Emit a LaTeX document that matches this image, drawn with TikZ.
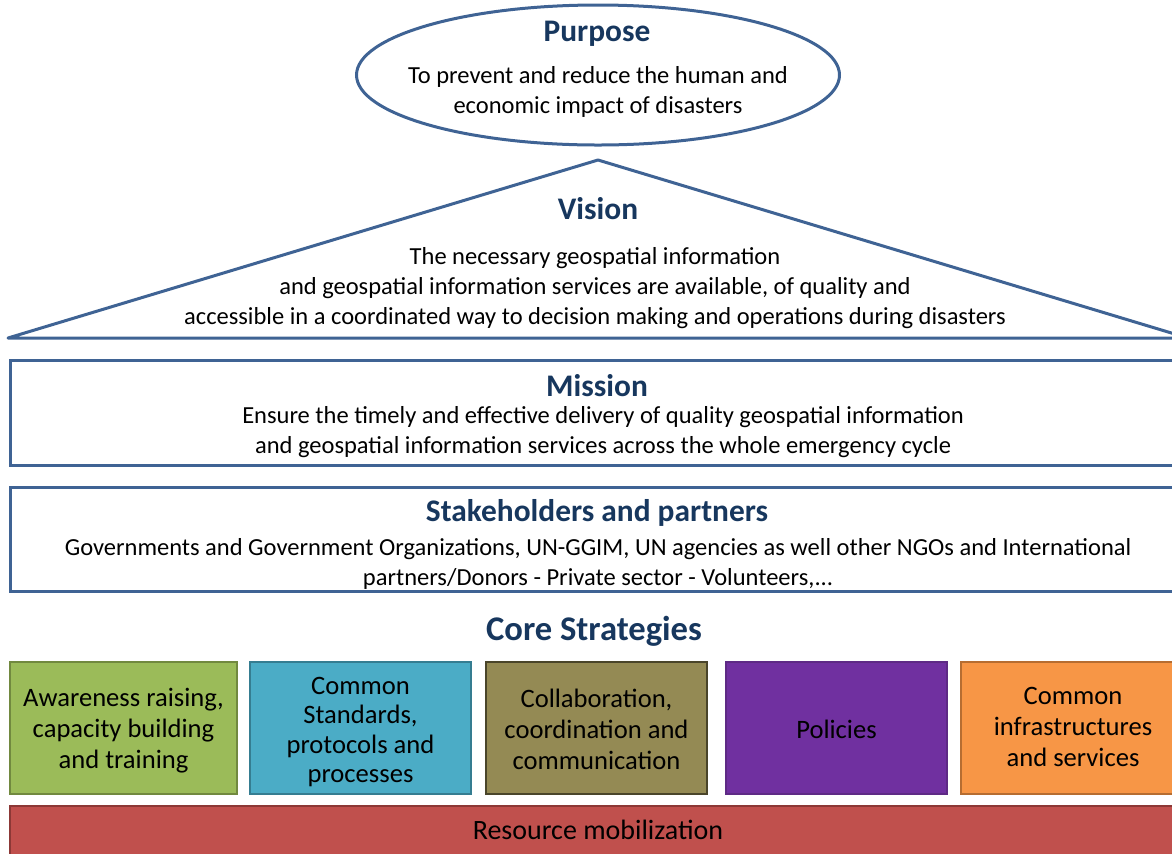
\documentclass[tikz,border=0pt]{standalone}
\usepackage{fontspec}
\setmainfont{Carlito}
\usetikzlibrary{shapes.geometric}

\definecolor{outline}{RGB}{63,99,148}
\definecolor{titlecol}{RGB}{23,55,94}
\definecolor{greenfill}{RGB}{155,187,89}
\definecolor{greenline}{RGB}{113,137,63}
\definecolor{bluefill}{RGB}{75,172,198}
\definecolor{blueline}{RGB}{53,125,145}
\definecolor{olivefill}{RGB}{148,138,84}
\definecolor{oliveline}{RGB}{74,69,42}
\definecolor{purplefill}{RGB}{112,48,160}
\definecolor{purpleline}{RGB}{94,42,133}
\definecolor{orangefill}{RGB}{247,150,70}
\definecolor{orangeline}{RGB}{182,109,49}
\definecolor{redfill}{RGB}{192,80,77}
\definecolor{redline}{RGB}{140,56,54}

\tikzset{
  heading/.style={font=\bfseries\fontsize{15.7}{18}\selectfont, text=titlecol},
  bodytext/.style={font=\fontsize{12.25}{15}\selectfont, align=center},
  panel/.style={draw=outline, line width=1.5pt},
  strategy/.style={draw, line width=1pt, minimum height=66pt},
  strategytext/.style={align=center, font=\fontsize{13.3}{15.5}\selectfont, text=black}
}

\begin{document}
\begin{tikzpicture}[x=0.5pt, y=-0.5pt]
\clip (0,0) rectangle (1172,853);

%目的：椭圆
\node[panel, ellipse, minimum width=241.5pt, minimum height=70pt] (purpose) at (598,75) {};
\node[heading] (purposetitle) at (597,34) {Purpose};
\node[bodytext] (purposetext) at (598,92) {To prevent and reduce the human and\\economic impact of disasters};

%愿景：三角形
\draw[panel, line join=round] (8,338) -- (598,160) -- (1188,338) -- cycle;
\node[heading] (visiontitle) at (598,209) {Vision};
\node[bodytext] (visiontext) at (595,288) {The necessary geospatial information\\and geospatial information services are available, of quality and\\accessible in a coordinated way to decision making and operations during disasters};

%使命
\draw[panel] (10,360) rectangle (1185,465);
\node[heading] (missiontitle) at (597,386) {Mission};
\node[bodytext] (missiontext) at (603,432.5) {Ensure the timely and effective delivery of quality geospatial information\\and geospatial information services across the whole emergency cycle};

%利益相关方
\draw[panel] (10,487) rectangle (1185,591);
\node[heading] (stakeholdertitle) at (597,513) {Stakeholders and partners};
\node[bodytext] (stakeholdertext) at (598,563.5) {Governments and Government Organizations, UN-GGIM, UN agencies as well other NGOs and International\\partners/Donors - Private sector - Volunteers,...};

%核心战略
\node[heading, font=\bfseries\fontsize{17.3}{20}\selectfont] (coretitle) at (594,631) {Core Strategies};
\node[strategy, fill=greenfill, draw=greenline, minimum width=113.5pt] (awareness) at (123.5,728) {};
\node[strategy, fill=bluefill, draw=blueline, minimum width=110.5pt] (standards) at (360.5,728) {};
\node[strategy, fill=olivefill, draw=oliveline, minimum width=110.5pt] (collab) at (596.5,728) {};
\node[strategy, fill=purplefill, draw=purpleline, minimum width=110.5pt] (policies) at (836.5,728) {};
\node[strategy, fill=orangefill, draw=orangeline, minimum width=112pt] (infra) at (1073,728) {};

%方框里的文字
\node[strategytext] (awarenesstext) at ([yshift=-1.5pt]awareness.center) {Awareness raising,\\capacity building\\and training};
\node[strategytext, font=\fontsize{13.3}{14.8}\selectfont] (standardstext) at ([yshift=-2pt]standards.center) {Common\\Standards,\\protocols and\\processes};
\node[strategytext] (collabtext) at ([yshift=-0.5pt]collab.center) {Collaboration,\\coordination and\\communication};
\node[strategytext] (policiestext) at ([yshift=-0.5pt]policies.center) {Policies};
\node[strategytext] (infratext) at ([yshift=0.5pt]infra.center) {Common\\infrastructures\\and services};

%资源动员
\draw[draw=redline, fill=redfill, line width=1pt] (10,806) rectangle (1185,870);
\node[font=\fontsize{14}{16}\selectfont, text=black] (resource) at (598,830) {Resource mobilization};

\end{tikzpicture}
\end{document}
